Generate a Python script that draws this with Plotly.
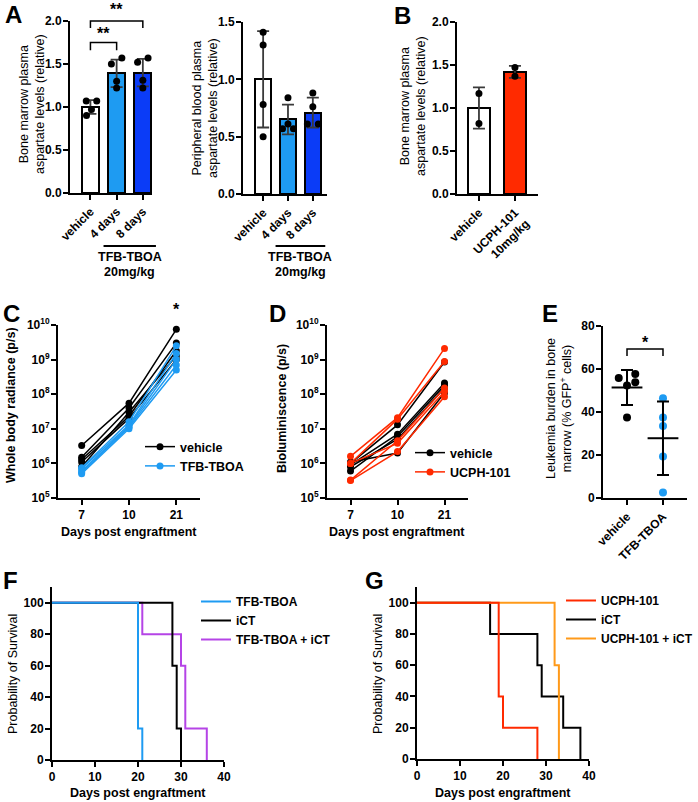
import plotly.graph_objects as go

W, H = 698, 802
FONT = "Arial, Liberation Sans, sans-serif"

# ---------------- data ----------------
A1_groups = ["vehicle", "4 days", "8 days"]
A1_mean = [1.00, 1.39, 1.40]
A1_sd = [0.08, 0.16, 0.16]
A1_points = [[1.07, 1.07, 0.97, 0.90], [1.57, 1.50, 1.30, 1.22], [1.57, 1.52, 1.31, 1.22]]

A2_groups = ["vehicle", "4 days", "8 days"]
A2_mean = [1.00, 0.65, 0.71]
A2_sd = [0.42, 0.13, 0.13]
A2_points = [[1.41, 1.30, 0.78, 0.50], [0.84, 0.61, 0.57, 0.57], [0.88, 0.76, 0.61, 0.61]]

B_groups = ["vehicle", "UCPH-101<br>10mg/kg"]
B_mean = [1.00, 1.42]
B_sd = [0.24, 0.07]
B_points = [[1.17, 0.82], [1.47, 1.37]]

days = ["7", "10", "21"]
C_vehicle = [[3.3e6, 5.5e7, 7.5e9], [1.5e6, 4.0e7, 3.0e9], [1.3e6, 2.3e7, 1.8e9],
             [1.1e6, 2.0e7, 1.0e9], [8.0e5, 3.0e7, 1.3e9]]
C_tfb = [[7.5e5, 1.6e7, 2.5e9], [7.0e5, 1.3e7, 1.5e9], [6.0e5, 1.2e7, 1.0e9],
         [5.5e5, 1.1e7, 7.0e8], [5.0e5, 1.0e7, 5.0e8]]
D_vehicle = [[1.0e6, 1.3e7, 8.5e8], [9.0e5, 7.0e6, 2.1e8], [6.0e5, 6.0e6, 1.8e8],
             [1.1e6, 2.0e6, 1.1e8], [8.0e5, 5.0e6, 1.5e8]]
D_ucph = [[1.6e6, 2.1e7, 2.1e9], [1.0e6, 1.9e7, 8.8e8], [3.3e5, 4.5e6, 1.5e8],
          [3.2e5, 2.2e6, 8.5e7], [1.0e6, 3.8e6, 1.2e8]]
log_ticks = [1e5, 1e6, 1e7, 1e8, 1e9, 1e10]
log_ticktext = ["10<sup>5</sup>", "10<sup>6</sup>", "10<sup>7</sup>", "10<sup>8</sup>",
                "10<sup>9</sup>", "10<sup>10</sup>"]

E_groups = ["vehicle", "TFB-TBOA"]
E_vehicle = [55.8, 57.7, 53.8, 52.3, 37.4]
E_tfb = [46.4, 37.4, 33.5, 19.3, 2.6]
E_mean = [51.4, 27.8]
E_sd = [8.1, 17.1]

F_tfb_t, F_tfb_s = [0, 20, 21], [100, 20, 0]
F_ict_t, F_ict_s = [0, 28, 29, 30], [100, 60, 20, 0]
F_combo_t, F_combo_s = [0, 21, 30, 31, 36], [100, 80, 60, 20, 0]
G_ucph_t, G_ucph_s = [0, 19, 20, 28], [100, 40, 20, 0]
G_ict_t, G_ict_s = [0, 17, 28, 29, 34, 38], [100, 80, 60, 40, 20, 0]
G_combo_t, G_combo_s = [0, 32, 33], [100, 60, 0]

# ---------------- style ----------------
LBLUE, DBLUE, RED = "#1e9bf2", "#0b3cf7", "#ff2a00"
PURPLE, ORANGE = "#b544e6", "#ff9a1a"
JIT_A1 = [[-0.16, 0.24, 0.04, -0.15], [0.2, -0.2, 0.0, 0.0], [0.2, -0.2, 0.0, 0.0]]
JIT_A2 = [[0, 0, 0, 0], [0, 0, -0.22, 0.22], [0, 0, -0.22, 0.22]]
JIT_B = [[0, 0], [0, 0]]
JIT_E = [[-0.23, 0.23, 0.23, 0.0, 0.0], [0, 0, 0, 0, 0]]

# panel geometry in pixels: x0, x1, xrange, ytop, ybottom, yrange
P = {
    "A1": (70, 152, [-0.78, 2.35], 21, 193, [0, 2.0]),
    "A2": (243, 327, [-0.81, 2.57], 22, 194, [0, 1.5]),
    "B": (457, 538, [-0.61, 1.64], 22, 194, [0, 2.0]),
    "C": (58, 200, [-0.5, 2.5], 325, 498, [5, 10]),
    "D": (327, 468, [-0.5, 2.5], 325, 498, [5, 10]),
    "E": (603, 687, [-0.667, 1.667], 326, 498, [0, 80]),
    "F": (52, 224, [0, 40], 587, 760, [0, 110]),
    "G": (417, 589, [0, 40], 587, 759, [0, 110]),
}
AX = {"A1": "", "A2": "2", "B": "3", "C": "4", "D": "5", "E": "6", "F": "7", "G": "8"}


def topaper(p, x, y):
    x0, x1, xr, yt, yb, yr = P[p]
    px = x0 + (x - xr[0]) / (xr[1] - xr[0]) * (x1 - x0)
    py = yb - (y - yr[0]) / (yr[1] - yr[0]) * (yb - yt)
    return px / W, 1 - py / H


fig = go.Figure()
TICKFONT = dict(family=FONT, size=12, color="black", weight="bold")


def axes(p, xkw, ykw):
    x0, x1, xr, yt, yb, yr = P[p]
    n = AX[p]
    base = dict(showline=True, linecolor="black", linewidth=2, ticks="outside",
                ticklen=5, tickwidth=2, tickcolor="black", showgrid=False,
                zeroline=False, tickfont=TICKFONT, fixedrange=True, automargin=False)
    xa = dict(base, domain=[x0 / W, x1 / W], range=xr, anchor="y" + n, **xkw)
    ya = dict(base, domain=[1 - yb / H, 1 - yt / H], range=yr, anchor="x" + n,
              ticklabelstandoff=-1, **ykw)
    fig.layout["xaxis" + n] = xa
    fig.layout["yaxis" + n] = ya


def bar_panel(p, groups, means, sds, points, jit, colors, bw, yticks):
    n = AX[p]
    idx = list(range(len(groups)))
    fig.add_trace(go.Bar(x=idx, y=means, width=bw, xaxis="x" + n, yaxis="y" + n,
                         marker=dict(color=colors, line=dict(color="black", width=2)),
                         error_y=dict(type="data", array=sds, color="#3a3a3a",
                                      thickness=1.8, width=6),
                         showlegend=False))
    xs, ys = [], []
    for i, pts in enumerate(points):
        for j, v in enumerate(pts):
            xs.append(i + jit[i][j])
            ys.append(v)
    fig.add_trace(go.Scatter(x=xs, y=ys, mode="markers", xaxis="x" + n, yaxis="y" + n,
                             marker=dict(color="black", size=7), showlegend=False,
                             cliponaxis=False))
    axes(p, dict(tickvals=idx, ticktext=groups, tickangle=-45),
         dict(tickvals=yticks, tickformat=".1f"))


bar_panel("A1", A1_groups, A1_mean, A1_sd, A1_points, JIT_A1,
          ["white", LBLUE, DBLUE], 0.64, [0, 0.5, 1.0, 1.5, 2.0])
bar_panel("A2", A2_groups, A2_mean, A2_sd, A2_points, JIT_A2,
          ["white", LBLUE, DBLUE], 0.64, [0, 0.5, 1.0, 1.5])
bar_panel("B", B_groups, B_mean, B_sd, B_points, JIT_B,
          ["white", RED], 0.61, [0, 0.5, 1.0, 1.5, 2.0])


def spaghetti(p, mice, color, name, legend):
    n = AX[p]
    xs, ys = [], []
    for m in mice:
        xs += [0, 1, 2, None]
        ys += list(m) + [None]
    fig.add_trace(go.Scatter(x=xs, y=ys, mode="lines+markers", name=name,
                             xaxis="x" + n, yaxis="y" + n, legend=legend,
                             line=dict(color=color, width=1.5),
                             marker=dict(color=color, size=7), cliponaxis=False))


spaghetti("C", C_vehicle, "black", "vehicle", "legend")
spaghetti("C", C_tfb, LBLUE, "TFB-TBOA", "legend")
spaghetti("D", D_vehicle, "black", "vehicle", "legend2")
spaghetti("D", D_ucph, RED, "UCPH-101", "legend2")
for p in ["C", "D"]:
    axes(p, dict(tickvals=[0, 1, 2], ticktext=days),
         dict(type="log", tickvals=log_ticks, ticktext=log_ticktext))

# E scatter with mean +/- SD
nE = AX["E"]
for i, (vals, col) in enumerate([(E_vehicle, "black"), (E_tfb, LBLUE)]):
    fig.add_trace(go.Scatter(x=[i + j for j in JIT_E[i]], y=vals, mode="markers",
                             xaxis="x" + nE, yaxis="y" + nE, showlegend=False,
                             marker=dict(color=col, size=8), cliponaxis=False))
fig.add_trace(go.Scatter(x=[0, 1], y=E_mean, mode="markers", xaxis="x" + nE, yaxis="y" + nE,
                         showlegend=False,
                         marker=dict(symbol="line-ew", size=22, color="black",
                                     line=dict(color="black", width=2)),
                         error_y=dict(type="data", array=E_sd, color="black",
                                      thickness=2, width=6)))
axes("E", dict(tickvals=[0, 1], ticktext=E_groups, tickangle=-45),
     dict(tickvals=[0, 20, 40, 60, 80]))


def surv(p, t, s, color, name, legend, rank):
    n = AX[p]
    fig.add_trace(go.Scatter(x=t, y=s, mode="lines", line_shape="hv", name=name,
                             xaxis="x" + n, yaxis="y" + n, legend=legend, legendrank=rank,
                             line=dict(color=color, width=2)))


surv("F", F_combo_t, F_combo_s, PURPLE, "TFB-TBOA + iCT", "legend3", 3)
surv("F", F_ict_t, F_ict_s, "black", "iCT", "legend3", 2)
surv("F", F_tfb_t, F_tfb_s, LBLUE, "TFB-TBOA", "legend3", 1)
surv("G", G_ict_t, G_ict_s, "black", "iCT", "legend4", 2)
surv("G", G_combo_t, G_combo_s, ORANGE, "UCPH-101 + iCT", "legend4", 3)
surv("G", G_ucph_t, G_ucph_s, RED, "UCPH-101", "legend4", 1)
for p in ["F", "G"]:
    axes(p, dict(tickvals=[0, 10, 20, 30, 40]), dict(tickvals=[0, 20, 40, 60, 80, 100]))

# ---------------- annotations ----------------
ann = []
shapes = []


def text(xpx, ypx, s, size=12.5, bold=False, angle=0):
    ann.append(dict(x=xpx / W, y=1 - ypx / H, xref="paper", yref="paper", text=s,
                    showarrow=False, textangle=angle, xanchor="center", yanchor="middle",
                    font=dict(family=FONT, size=size, color="black",
                              weight="bold" if bold else "normal")))


def line_paper(p, pts, width=2):
    path = ""
    for k, (x, y) in enumerate(pts):
        px, py = topaper(p, x, y)
        path += ("M" if k == 0 else "L") + f"{px:.5f},{py:.5f}"
    shapes.append(dict(type="path", path=path, xref="paper", yref="paper",
                       line=dict(color="black", width=width)))


# panel letters
for L, (x, y) in {"A": (13, 14), "B": (403, 15), "C": (11, 314), "D": (277, 314),
                  "E": (550, 314), "F": (10, 580), "G": (374, 580)}.items():
    text(x, y, L, size=24, bold=True)

# y titles
text(32, 104, "Bone marrow plasma<br>aspartate levels (relative)", angle=-90)
text(205, 108, "Peripheral blood plasma<br>aspartate levels (relative)", angle=-90)
text(413, 106, "Bone marrow plasma<br>aspartate levels (relative)", angle=-90)
text(11, 405, "Whole body radiance (p/s)", bold=True, angle=-90)
text(282, 409, "Bioluminiscence (p/s)", bold=True, angle=-90)
text(559, 409, "Leukemia burden in bone<br>marrow (% GFP<sup>+</sup> cells)", angle=-90)
text(13, 674, "Probability of Survival", angle=-90)
text(378, 674, "Probability of Survival", angle=-90)

# x titles
text(129, 532, "Days post engraftment", bold=True)
text(397, 532, "Days post engraftment", bold=True)
text(138, 793, "Days post engraftment", bold=True)
text(503, 793, "Days post engraftment", bold=True)

# treatment group labels under A panels
for p in ["A1", "A2"]:
    xa, _ = topaper(p, 0.5, 0)
    xb, _ = topaper(p, 2.5, 0)
    shapes.append(dict(type="line", xref="paper", yref="paper", x0=xa, x1=xb,
                       y0=1 - 246 / H, y1=1 - 246 / H, line=dict(color="black", width=2)))
    xc = (xa + xb) / 2 * W
    text(xc, 257, "TFB-TBOA", bold=True)
    text(xc, 272, "20mg/kg", bold=True)

# significance brackets
line_paper("A1", [(0, 1.66), (0, 1.75), (1, 1.75), (1, 1.66)], 1.5)
line_paper("A1", [(0, 1.92), (0, 2.0), (2, 2.0), (2, 1.92)], 1.5)
xs_, _ = topaper("A1", 0.5, 0)
text(xs_ * W, 33, "**", size=16, bold=True)
xs_, _ = topaper("A1", 1.0, 0)
text(xs_ * W, 9, "**", size=16, bold=True)
line_paper("E", [(0, 66), (0, 69.3), (1, 69.3), (1, 66)], 1.5)
xs_, _ = topaper("E", 0.5, 0)
text(xs_ * W, 343, "*", size=16, bold=True)
xs_, _ = topaper("C", 2, 5)
text(xs_ * W, 309, "*", size=16, bold=True)

leg = dict(xanchor="left", yanchor="top", bgcolor="rgba(0,0,0,0)",
           font=dict(family=FONT, size=12.5, color="black", weight="bold"),
           itemwidth=30, tracegroupgap=0, traceorder="normal")
legS = dict(leg, font=dict(family=FONT, size=12, color="black", weight="bold"))

fig.update_layout(
    template="none",
    width=W, height=H, margin=dict(l=0, r=0, t=0, b=0, autoexpand=False),
    paper_bgcolor="white", plot_bgcolor="white",
    font=dict(family=FONT, color="black"),
    annotations=ann, shapes=shapes,
    legend=dict(leg, x=140 / W, y=1 - 432 / H),
    legend2=dict(leg, x=410 / W, y=1 - 438 / H),
    legend3=dict(legS, x=196 / W, y=1 - 587 / H),
    legend4=dict(legS, x=561 / W, y=1 - 586 / H),
    bargap=0,
)

fig.write_html("out.html")
